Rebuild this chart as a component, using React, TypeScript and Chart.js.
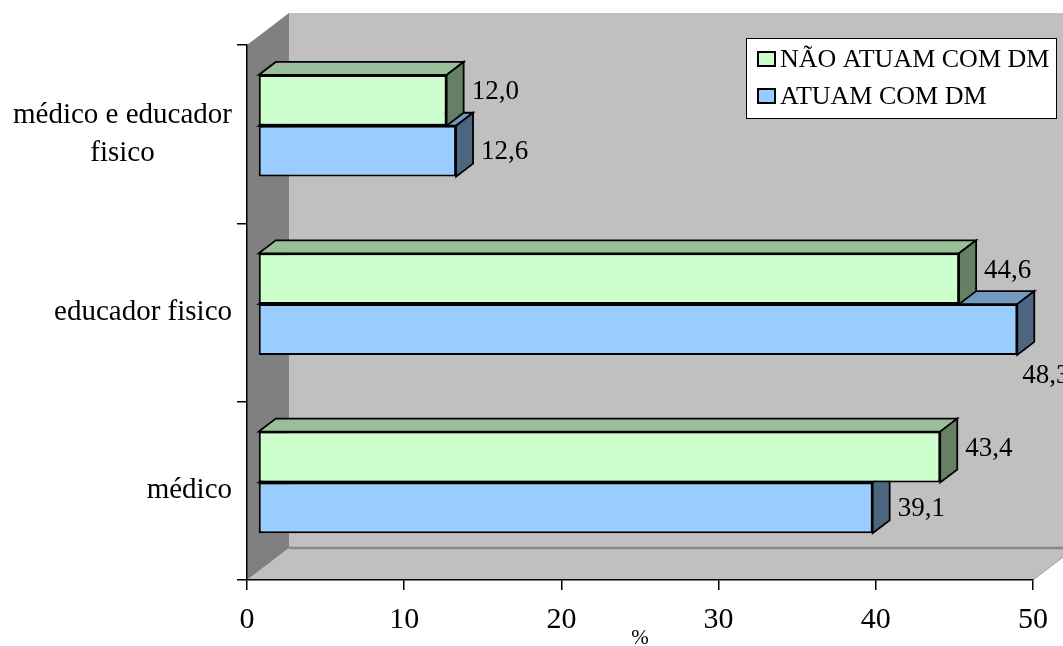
import React, { useEffect, useRef } from 'react';
import { Chart, registerables } from 'chart.js';

Chart.register(...registerables);

// ---- data ----
const categories: (string | string[])[] = [['médico e educador', 'fisico'], 'educador fisico', 'médico'];
const seriesNames = ['NÃO ATUAM COM DM', 'ATUAM COM DM'];
const naoAtuam = [12.0, 44.6, 43.4];
const atuam = [12.6, 48.3, 39.1];
const xMin = 0;
const xMax = 50;
const xStep = 10;
const axisTitle = '%';

// ---- style ----
const FONT = '"Liberation Serif", "Times New Roman", serif';
const GREEN = '#CCFFCC';
const BLUE = '#99CCFF';
const WALL = { x: 42, y: -32 };
const SHIFT = { x: 11, y: -8.4 };
const DEPTH = { x: 17, y: -13 };

function shade(hex: string, f: number): string {
  const n = parseInt(hex.slice(1), 16);
  const r = Math.round(((n >> 16) & 255) * f);
  const g = Math.round(((n >> 8) & 255) * f);
  const b = Math.round((n & 255) * f);
  return `rgb(${r},${g},${b})`;
}

function poly(ctx: CanvasRenderingContext2D, pts: number[][], fill: string, stroke?: string, lw = 1.5) {
  ctx.beginPath();
  ctx.moveTo(pts[0][0], pts[0][1]);
  for (let i = 1; i < pts.length; i++) ctx.lineTo(pts[i][0], pts[i][1]);
  ctx.closePath();
  ctx.fillStyle = fill;
  ctx.fill();
  if (stroke) {
    ctx.strokeStyle = stroke;
    ctx.lineWidth = lw;
    ctx.lineJoin = 'miter';
    ctx.stroke();
  }
}

const threeD = {
  id: 'threeD',
  beforeDraw(chart: any) {
    const { ctx, chartArea: a } = chart;
    ctx.save();
    // back wall
    ctx.fillStyle = '#C0C0C0';
    ctx.fillRect(a.left + WALL.x, a.top + WALL.y, chart.width, a.bottom - a.top);
    // floor
    poly(ctx, [
      [a.left, a.bottom],
      [a.left + WALL.x, a.bottom + WALL.y],
      [a.right + WALL.x, a.bottom + WALL.y],
      [a.right, a.bottom],
    ], '#C0C0C0');
    ctx.strokeStyle = '#A0A0A0';
    ctx.lineWidth = 1;
    ctx.beginPath();
    ctx.moveTo(a.right, a.bottom);
    ctx.lineTo(a.right + WALL.x, a.bottom + WALL.y);
    ctx.stroke();
    ctx.strokeStyle = '#888888';
    ctx.lineWidth = 2.5;
    ctx.beginPath();
    ctx.moveTo(a.left + WALL.x, a.bottom + WALL.y);
    ctx.lineTo(chart.width, a.bottom + WALL.y);
    ctx.stroke();
    // side wall
    poly(ctx, [
      [a.left, a.top],
      [a.left + WALL.x, a.top + WALL.y],
      [a.left + WALL.x, a.bottom + WALL.y],
      [a.left, a.bottom],
    ], '#808080');
    ctx.restore();
  },
  beforeDatasetDraw(chart: any, args: any) {
    const ctx = chart.ctx;
    ctx.save();
    ctx.translate(SHIFT.x, SHIFT.y);
    const ds = chart.data.datasets[args.index];
    const col = ds.backgroundColor as string;
    args.meta.data.forEach((el: any) => {
      const p = el.getProps(['x', 'y', 'base', 'height'], true);
      const x0 = Math.min(p.x, p.base);
      const x1 = Math.max(p.x, p.base);
      const y0 = p.y - p.height / 2;
      const y1 = p.y + p.height / 2;
      poly(ctx, [
        [x0, y0], [x1, y0], [x1 + DEPTH.x, y0 + DEPTH.y], [x0 + DEPTH.x, y0 + DEPTH.y],
      ], shade(col, 0.75), '#000', 1.8);
      poly(ctx, [
        [x1, y0], [x1 + DEPTH.x, y0 + DEPTH.y], [x1 + DEPTH.x, y1 + DEPTH.y], [x1, y1],
      ], shade(col, 0.5), '#000', 1.8);
    });
  },
  afterDatasetDraw(chart: any) {
    chart.ctx.restore();
  },
  afterDatasetsDraw(chart: any) {
    const ctx = chart.ctx;
    ctx.save();
    ctx.font = `27px ${FONT}`;
    ctx.fillStyle = '#000';
    ctx.textAlign = 'left';
    ctx.textBaseline = 'middle';
    chart.data.datasets.forEach((ds: any, i: number) => {
      chart.getDatasetMeta(i).data.forEach((el: any, j: number) => {
        const v = ds.data[j] as number;
        const txt = v.toFixed(1).replace('.', ',');
        const w = ctx.measureText(txt).width;
        const p = el.getProps(['x', 'y', 'height'], true);
        const right = p.x + SHIFT.x;
        let lx = right + DEPTH.x + 8;
        let ly = p.y + SHIFT.y + (i === 0 ? -8 : 1);
        if (lx + w > chart.width) {
          lx = right + 5;
          ly = p.y + SHIFT.y + p.height / 2 + 21;
        }
        ctx.fillText(txt, lx, ly);
      });
    });
    ctx.restore();
  },
  afterDraw(chart: any) {
    const { ctx, chartArea: a } = chart;
    ctx.save();
    // category labels
    const ys = chart.scales.y;
    ctx.font = `29px ${FONT}`;
    ctx.fillStyle = '#000';
    ctx.textBaseline = 'middle';
    ctx.textAlign = 'center';
    const lh = 38;
    (chart.data.labels as (string | string[])[]).forEach((lab, i) => {
      const lines = Array.isArray(lab) ? lab : [lab];
      const maxW = Math.max(...lines.map((l) => ctx.measureText(l).width));
      const cx = a.left - 15 - maxW / 2;
      const cy = ys.getPixelForTick(i);
      lines.forEach((l, k) => {
        ctx.fillText(l, cx, cy + (k - (lines.length - 1) / 2) * lh);
      });
    });
    // legend
    const bx = a.right - 287;
    const by = a.top - 7;
    const bw = 310;
    const bh = 80;
    ctx.fillStyle = '#FFFFFF';
    ctx.fillRect(bx, by, bw, bh);
    ctx.strokeStyle = '#000';
    ctx.lineWidth = 1;
    ctx.strokeRect(bx + 0.5, by + 0.5, bw, bh);
    ctx.font = `26px ${FONT}`;
    ctx.textAlign = 'left';
    chart.data.datasets.forEach((ds: any, i: number) => {
      const cy = by + 21 + i * 37;
      ctx.fillStyle = ds.backgroundColor;
      ctx.fillRect(bx + 12, cy - 7, 17, 14);
      ctx.strokeStyle = '#000';
      ctx.lineWidth = 2;
      ctx.strokeRect(bx + 12, cy - 7, 17, 14);
      ctx.fillStyle = '#000';
      ctx.fillText(ds.label, bx + 34, cy + 1);
    });
    ctx.restore();
  },
};

export default function App() {
  const ref = useRef<HTMLCanvasElement | null>(null);
  useEffect(() => {
    if (!ref.current) return;
    const chart = new Chart(ref.current, {
      type: 'bar',
      data: {
        labels: categories as any,
        datasets: [
          {
            label: seriesNames[0],
            data: naoAtuam,
            backgroundColor: GREEN,
            borderColor: '#000',
            borderWidth: 2,
            borderSkipped: false,
            categoryPercentage: 0.57,
            barPercentage: 1,
            clip: false as any,
          },
          {
            label: seriesNames[1],
            data: atuam,
            backgroundColor: BLUE,
            borderColor: '#000',
            borderWidth: 2,
            borderSkipped: false,
            categoryPercentage: 0.57,
            barPercentage: 1,
            clip: false as any,
          },
        ],
      },
      options: {
        indexAxis: 'y',
        responsive: false,
        animation: false,
        devicePixelRatio: 1,
        events: [],
        layout: { padding: { top: 45, right: 30, left: 0, bottom: 0 } },
        plugins: {
          legend: { display: false },
          tooltip: { enabled: false },
        },
        scales: {
          x: {
            min: xMin,
            max: xMax,
            ticks: {
              stepSize: xStep,
              color: '#000',
              font: { family: FONT, size: 30 },
              padding: 12,
              callback: (v: any) => String(v),
            },
            grid: { drawOnChartArea: false, drawTicks: true, tickLength: 10, color: '#000', lineWidth: 1.5 },
            border: { display: true, color: '#000', width: 1.5 },
            title: {
              display: true,
              text: axisTitle,
              color: '#000',
              font: { family: FONT, size: 21, lineHeight: 1 },
              padding: { top: 0, bottom: -3 },
            },
            afterFit: (s: any) => { s.height = 66; },
          },
          y: {
            ticks: { display: false },
            grid: { offset: true, drawOnChartArea: false, drawTicks: true, tickLength: 10, color: '#000', lineWidth: 1.5 },
            border: { display: true, color: '#000', width: 1.5 },
            afterFit: (s: any) => { s.width = 247; },
          },
        },
      },
      plugins: [threeD],
    });
    return () => chart.destroy();
  }, []);
  return (
    <div style={{ position: 'fixed', left: 0, top: 0, width: 1063, height: 646, background: '#fff' }}>
      <canvas ref={ref} width={1063} height={646} style={{ width: 1063, height: 646, display: 'block' }} />
    </div>
  );
}
